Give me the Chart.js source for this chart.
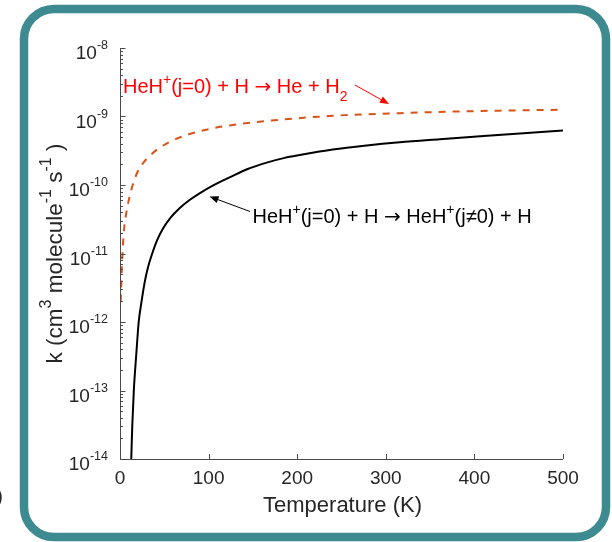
<!DOCTYPE html>
<html>
<head>
<meta charset="utf-8">
<script src="https://cdn.jsdelivr.net/npm/chart.js@4/dist/chart.umd.min.js"></script>
<style>
  html, body { margin: 0; padding: 0; background: #fff; }
  canvas { display: block; }
</style>
</head>
<body>
<canvas id="rateChart" width="612" height="542"></canvas>
<script>
// HeH+(j=0) + H -> HeH+(j!=0) + H  (inelastic), k in cm^3 molecule^-1 s^-1
const tempInelastic = [12.7, 13.9, 15.6, 18.4, 21.1, 24.3, 28.2, 32.2, 36.4, 41.8, 48.4, 57.1, 67.2, 78.5, 89.8, 106.8, 123.7, 144.1, 165.5, 185.9, 202.8, 240.1, 278.5, 315.8, 361, 402.8, 451.4, 500];
const rateInelastic = [1.0e-14, 3.16e-14, 1.0e-13, 3.41e-13, 1.0e-12, 1.98e-12, 4.01e-12, 6.73e-12, 1.0e-11, 1.55e-11, 2.29e-11, 3.33e-11, 4.57e-11, 6.03e-11, 7.57e-11, 1.014e-10, 1.29e-10, 1.71e-10, 2.12e-10, 2.49e-10, 2.74e-10, 3.30e-10, 3.78e-10, 4.20e-10, 4.65e-10, 5.09e-10, 5.65e-10, 6.25e-10];

// HeH+(j=0) + H -> He + H2  (reactive)
const tempReactive = [0.68, 1.36, 2.15, 3.16, 4.97, 7.34, 10.7, 14.7, 19.8, 26.6, 34.5, 44.6, 63.5, 89.8, 123.7, 165, 240, 316, 402, 500];
const rateReactive = [2.0e-12, 3.17e-12, 6.3e-12, 1.24e-11, 2.52e-11, 4.04e-11, 6.68e-11, 1.035e-10, 1.55e-10, 2.13e-10, 2.74e-10, 3.49e-10, 4.72e-10, 6.09e-10, 7.41e-10, 8.59e-10, 1.023e-9, 1.12e-9, 1.20e-9, 1.256e-9];

const xTicks = [0, 100, 200, 300, 400, 500];
const yExponents = [-14, -13, -12, -11, -10, -9, -8];

const FONT = '"Liberation Sans", Arial, Helvetica, sans-serif';
const TEXT = "#262626";
const AXIS = "#4a4a4a";

function toPoints(xs, ys) {
  return xs.map((x, i) => ({ x: x, y: ys[i] }));
}

// text runs: [string, mode] with mode "" | "sup" | "sub" | "sym"
function runFont(size, mode) {
  if (mode === "sym") return size + 'px "DejaVu Sans", sans-serif';
  return (mode ? Math.round(size * 0.7) : size) + "px " + FONT;
}

function richWidth(ctx, runs, size) {
  let w = 0;
  runs.forEach(([t, mode]) => {
    ctx.font = runFont(size, mode);
    w += ctx.measureText(t).width;
  });
  return w;
}

function drawRich(ctx, x, y, runs, size, color, align) {
  let cx = x;
  const w = richWidth(ctx, runs, size);
  if (align === "center") cx = x - w / 2;
  if (align === "right") cx = x - w;
  ctx.fillStyle = color;
  ctx.textAlign = "left";
  ctx.textBaseline = "alphabetic";
  runs.forEach(([t, mode]) => {
    ctx.font = runFont(size, mode);
    let dy = 0;
    if (mode === "sup") dy = -size * 0.47;
    if (mode === "sub") dy = size * 0.42;
    ctx.fillText(t, cx, y + dy);
    cx += ctx.measureText(t).width;
  });
}

function arrow(ctx, x0, y0, x1, y1, color, head, lw) {
  const a = Math.atan2(y1 - y0, x1 - x0);
  ctx.strokeStyle = color;
  ctx.fillStyle = color;
  ctx.lineWidth = lw;
  ctx.beginPath();
  ctx.moveTo(x0, y0);
  ctx.lineTo(x1 - Math.cos(a) * head * 0.6, y1 - Math.sin(a) * head * 0.6);
  ctx.stroke();
  ctx.beginPath();
  ctx.moveTo(x1, y1);
  ctx.lineTo(x1 - head * Math.cos(a) + head * 0.4 * Math.sin(a), y1 - head * Math.sin(a) - head * 0.4 * Math.cos(a));
  ctx.lineTo(x1 - head * Math.cos(a) - head * 0.4 * Math.sin(a), y1 - head * Math.sin(a) + head * 0.4 * Math.cos(a));
  ctx.closePath();
  ctx.fill();
}

const matlabAxes = {
  id: "matlabAxes",
  beforeDraw(chart) {
    const ctx = chart.ctx;
    ctx.save();
    ctx.fillStyle = "#fff";
    ctx.fillRect(0, 0, chart.width, chart.height);
    // rounded panel border
    ctx.strokeStyle = "#3d8b90";
    ctx.lineWidth = 8.5;
    ctx.beginPath();
    ctx.roundRect(24, 9, 582, 528, 30);
    ctx.stroke();
    // edge of a neighbouring label
    ctx.fillStyle = TEXT;
    ctx.font = "20px " + FONT;
    ctx.textAlign = "right";
    ctx.fillText(")", 3, 503);
    ctx.restore();
  },
  afterDatasetsDraw(chart) {
    const ctx = chart.ctx;
    const xs = chart.scales.x;
    const ys = chart.scales.y;
    const area = chart.chartArea;
    ctx.save();

    // axis lines
    ctx.strokeStyle = AXIS;
    ctx.lineWidth = 1;
    ctx.beginPath();
    ctx.moveTo(area.left + 0.5, area.top);
    ctx.lineTo(area.left + 0.5, area.bottom + 0.5);
    ctx.lineTo(area.right, area.bottom + 0.5);
    ctx.stroke();

    // x ticks, pointing inward
    ctx.beginPath();
    xTicks.forEach(v => {
      const px = Math.round(xs.getPixelForValue(v)) + 0.5;
      ctx.moveTo(px, area.bottom);
      ctx.lineTo(px, area.bottom - 5);
    });
    // y major + minor ticks
    yExponents.forEach(e => {
      const py = Math.round(ys.getPixelForValue(Math.pow(10, e))) + 0.5;
      ctx.moveTo(area.left, py);
      ctx.lineTo(area.left + 5.5, py);
      if (e < -8) {
        for (let m = 2; m <= 9; m++) {
          const pm = Math.round(ys.getPixelForValue(m * Math.pow(10, e))) + 0.5;
          ctx.moveTo(area.left, pm);
          ctx.lineTo(area.left + 3, pm);
        }
      }
    });
    ctx.stroke();

    // x tick labels
    ctx.fillStyle = TEXT;
    ctx.font = "19px " + FONT;
    ctx.textAlign = "center";
    ctx.textBaseline = "alphabetic";
    xTicks.forEach(v => {
      ctx.fillText(String(v), xs.getPixelForValue(v), area.bottom + 25);
    });

    // y tick labels 10^e
    yExponents.forEach(e => {
      const py = ys.getPixelForValue(Math.pow(10, e));
      ctx.font = "12.5px " + FONT;
      const ew = ctx.measureText(String(e)).width;
      ctx.textAlign = "left";
      ctx.fillText(String(e), 108 - ew, py + 1);
      ctx.font = "19px " + FONT;
      ctx.textAlign = "right";
      ctx.fillText("10", 108 - ew, py + 11);
    });

    // axis titles
    drawRich(ctx, (area.left + area.right) / 2 + 1, 512, [["Temperature (K)", ""]], 22, TEXT, "center");
    ctx.save();
    ctx.translate(62, (area.top + area.bottom) / 2);
    ctx.rotate(-Math.PI / 2);
    drawRich(ctx, 0, 0, [["k (cm", ""], ["3", "sup"], [" molecule", ""], ["-1", "sup"], [" s", ""], ["-1", "sup"], [" )", ""]], 22.5, TEXT, "center");
    ctx.restore();

    // curve annotations
    drawRich(ctx, 123, 93, [["HeH", ""], ["+", "sup"], ["(j=0) + H ", ""], ["\u2192", "sym"], [" He + H", ""], ["2", "sub"]], 20, "#ff0000", "left");
    arrow(ctx, 355, 85, 389, 104, "#ff0000", 9, 1);

    drawRich(ctx, 252.5, 223, [["HeH", ""], ["+", "sup"], ["(j=0) + H ", ""], ["\u2192", "sym"], [" HeH", ""], ["+", "sup"], ["(j\u22600) + H", ""]], 20, "#000", "left");
    arrow(ctx, 250, 211.5, 209.5, 196.5, "#000", 9, 1);

    ctx.restore();
  }
};

new Chart(document.getElementById("rateChart"), {
  type: "line",
  data: {
    datasets: [
      {
        label: "HeH+(j=0) + H -> He + H2",
        data: toPoints(tempReactive, rateReactive),
        borderColor: "#d95319",
        borderWidth: 2,
        borderDash: [7, 7],
        pointRadius: 0,
        cubicInterpolationMode: "monotone",
        fill: false,
      },
      {
        label: "HeH+(j=0) + H -> HeH+(j!=0) + H",
        data: toPoints(tempInelastic, rateInelastic),
        borderColor: "#000000",
        borderWidth: 2,
        pointRadius: 0,
        cubicInterpolationMode: "monotone",
        fill: false,
      },
    ],
  },
  options: {
    responsive: false,
    animation: false,
    layout: { padding: { left: 120, right: 49, top: 48, bottom: 83 } },
    scales: {
      x: { type: "linear", min: 0, max: 500, display: false },
      y: { type: "logarithmic", min: 1e-14, max: 1e-8, display: false },
    },
    plugins: {
      legend: { display: false },
      tooltip: { enabled: false },
    },
  },
  plugins: [matlabAxes],
});
</script>
</body>
</html>
